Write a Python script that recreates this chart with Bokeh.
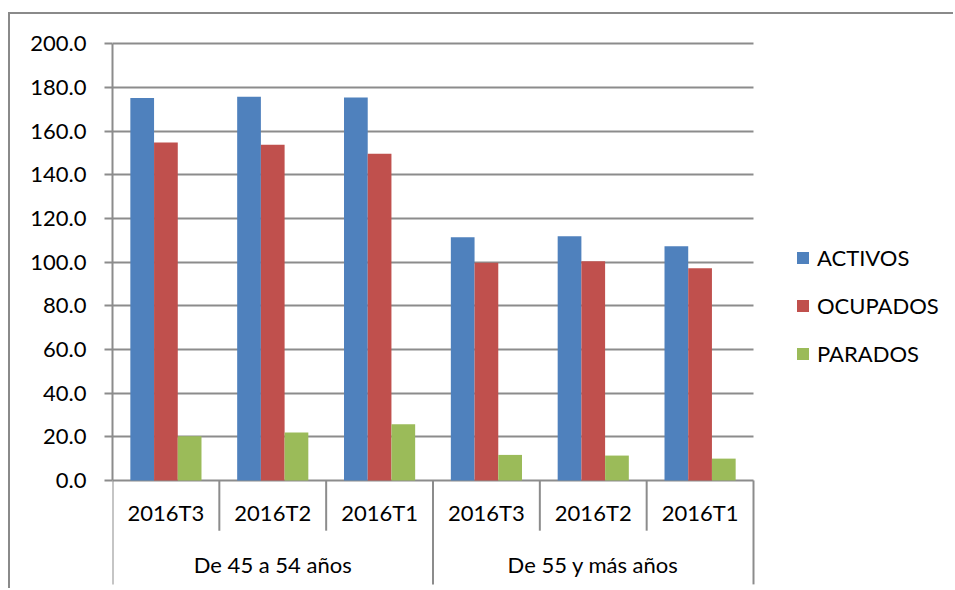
from bokeh.plotting import figure
from bokeh.models import (Range1d, LinearAxis, FixedTicker, NumeralTickFormatter,
                          ColumnDataSource, Legend, LegendItem)
from bokeh.transform import dodge
from bokeh.core.properties import value
from bokeh.embed import file_html
from bokeh.resources import INLINE

# ---- data ----
groups = ["De 45 a 54 años", "De 55 y más años"]
quarters = ["2016T3", "2016T2", "2016T1"]
activos = [175.2, 175.7, 175.4, 111.4, 111.9, 107.3]
ocupados = [154.8, 153.7, 149.6, 99.7, 100.4, 97.2]
parados = [20.3, 22.0, 25.7, 11.7, 11.4, 10.0]
series_names = ["ACTIVOS", "OCUPADOS", "PARADOS"]
y_ticks = [0, 20, 40, 60, 80, 100, 120, 140, 160, 180, 200]

colors = ["#4F81BD", "#C0504D", "#9BBB59"]
grid_color = "#8c8c8c"
FONT = "Lato"
FS = "22px"

# category positions (one unit per quarter cell)
labels = [q for g in groups for q in quarters]
n_cells = len(labels)
xc = [i + 0.5 for i in range(n_cells)]
group_x = [sum(xc[k * len(quarters):(k + 1) * len(quarters)]) / len(quarters) for k in range(len(groups))]

src = ColumnDataSource(data=dict(x=xc, activos=activos, ocupados=ocupados, parados=parados, t=labels))

FRAME_W = 843          # frame from left axis to canvas right edge
CELL_PX = 641 / n_cells

p = figure(width=945, height=576, output_backend="svg", toolbar_location=None,
           x_range=Range1d(0, FRAME_W / CELL_PX),
           y_range=Range1d(-50.4, 201.5),
           x_axis_location=None, y_axis_location=None,
           min_border_left=102, min_border_right=0, min_border_top=26, min_border_bottom=0)
p.margin = (12, 0, 0, 8)
p.styles = {"border-top": "2px solid #8a8a8a", "border-left": "2px solid #8a8a8a"}
p.outline_line_color = None
p.background_fill_color = "white"
p.border_fill_color = "white"
p.xgrid.visible = False

yaxis = LinearAxis(ticker=FixedTicker(ticks=y_ticks), bounds=(0, 200),
                   formatter=NumeralTickFormatter(format="0.0"))
yaxis.axis_line_color = grid_color
yaxis.axis_line_width = 2
yaxis.major_tick_line_color = grid_color
yaxis.major_tick_line_width = 2
yaxis.major_tick_out = 8
yaxis.major_tick_in = 0
yaxis.minor_tick_line_color = None
yaxis.major_label_standoff = 18
yaxis.major_label_text_font = FONT
yaxis.major_label_text_font_size = FS
yaxis.major_label_text_color = "black"
p.add_layout(yaxis, "left")
p.ygrid.ticker = FixedTicker(ticks=y_ticks)
p.ygrid.grid_line_color = grid_color
p.ygrid.grid_line_width = 2
p.ygrid.cross_bounds = (0, n_cells)

fields = ["activos", "ocupados", "parados"]
offsets = [-0.222, 0.0, 0.222]
renderers = []
for f, off, c in zip(fields, offsets, colors):
    r = p.vbar(x=dodge("x", off), top=f, width=0.222, bottom=0,
               source=src, fill_color=c, line_color=None)
    renderers.append(r)

# category separators below the axis
sep_long = -47.6
sep_short = -23.0
edges = list(range(n_cells + 1))
sep_src = ColumnDataSource(data=dict(
    x=edges,
    y1=[sep_long if e % len(quarters) == 0 else sep_short for e in edges]))
p.segment(x0="x", x1="x", y0=0, y1="y1", source=sep_src, line_color=grid_color, line_width=2)

# category labels
p.text(x="x", y=-14.6, text="t", source=src, text_font=value(FONT),
       text_font_size=FS, text_align="center", text_baseline="middle", text_color="black")
grp_src = ColumnDataSource(data=dict(x=group_x, t=groups))
p.text(x="x", y=-38.6, text="t", source=grp_src, text_font=value(FONT),
       text_font_size=FS, text_align="center", text_baseline="middle", text_color="black")

legend = Legend(items=[LegendItem(label=n, renderers=[r]) for n, r in zip(series_names, renderers)],
                location=(683, 222), orientation="vertical")
legend.border_line_color = None
legend.background_fill_alpha = 0
legend.padding = 0
legend.margin = 0
legend.glyph_width = 15
legend.glyph_height = 15
legend.label_standoff = 7
legend.label_height = 30
legend.spacing = 18
legend.label_text_font = FONT
legend.label_text_font_size = FS
legend.label_text_color = "black"
p.add_layout(legend, "center")

open("out.html", "w").write(file_html(p, INLINE))
